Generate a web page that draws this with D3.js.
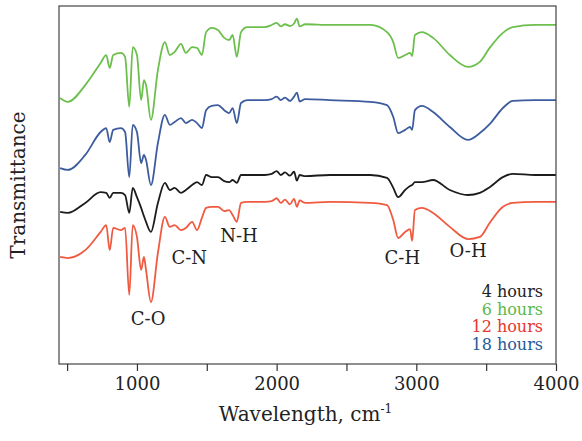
<!DOCTYPE html>
<html>
<head>
<meta charset="utf-8">
<script src="https://cdn.jsdelivr.net/npm/d3@7"></script>
<style>
    body { margin: 0; background: #fff; }
    text { font-family: "DejaVu Serif", "Liberation Serif", serif; }
    .line { fill: none; stroke-width: 1.8; stroke-linejoin: round; }
</style>
</head>
<body>
<div id="graph"></div>
<script>
// wavenumbers (cm-1) shared by all four spectra
var wavenumbers = [450, 505, 630, 740, 780, 805, 830, 885, 915, 945,
    970, 1000, 1030, 1050, 1065, 1100, 1150, 1200, 1235, 1270,
    1315, 1350, 1395, 1430, 1465, 1495, 1535, 1580, 1625, 1660,
    1685, 1715, 1745, 1790, 1915, 1965, 2000, 2030, 2060, 2095,
    2125, 2145, 2165, 2205, 2380, 2670, 2790, 2835, 2870, 2920,
    2955, 2970, 2990, 3040, 3120, 3240, 3370, 3455, 3525, 3620,
    3690, 3850, 4000];

// transmittance, offset spectra (a.u.)
var hours6 = [74.3, 73.2, 77.9, 84.1, 86.3, 82.7, 86.3, 86.9, 85.8, 71.8,
    88.5, 86.3, 73.7, 79.3, 77.9, 68.2, 82.1, 89.9, 86.3, 87.2,
    89.4, 86.9, 88.5, 88.3, 86.3, 92.7, 93.9, 93.3, 91.1, 90.5,
    91.9, 85.8, 92.7, 94.1, 94.1, 94.7, 95.3, 94.3, 94.9, 94.4,
    95.1, 96.5, 94.3, 94.9, 94.7, 94.7, 92.7, 89.9, 85.5, 86.3,
    86.9, 86.0, 91.9, 92.7, 91.1, 86.3, 83.0, 84.4, 88.3, 92.5,
    94.1, 94.7, 94.7];

var hours18 = [54.7, 54.2, 58.4, 64.8, 65.9, 62.0, 65.4, 65.9, 64.8, 52.2,
    66.8, 64.8, 56.1, 58.4, 57.0, 50.0, 61.7, 69.6, 66.8, 67.6,
    68.7, 67.3, 68.2, 67.3, 65.9, 70.9, 72.1, 72.3, 70.9, 70.1,
    71.5, 67.3, 72.9, 73.7, 73.7, 74.0, 74.7, 73.7, 74.4, 73.5,
    74.7, 75.8, 73.3, 74.0, 73.7, 73.2, 72.3, 69.0, 64.5, 65.4,
    66.2, 65.4, 70.9, 72.1, 70.4, 66.2, 62.6, 64.5, 67.0, 71.5,
    73.5, 73.7, 73.7];

var hours4 = [42.5, 42.2, 45.0, 48.0, 47.8, 46.4, 47.8, 47.8, 47.2, 42.2,
    49.2, 46.6, 43.6, 41.3, 39.7, 36.9, 45.0, 50.6, 48.6, 49.2,
    47.8, 48.6, 50.0, 50.8, 50.0, 52.8, 52.2, 52.2, 51.1, 50.8,
    51.4, 50.6, 52.8, 52.8, 52.8, 53.1, 53.9, 52.8, 53.5, 52.6,
    53.7, 51.2, 52.8, 52.5, 52.8, 52.8, 52.0, 49.2, 46.6, 48.6,
    49.7, 50.0, 50.8, 50.8, 51.4, 48.6, 47.2, 47.8, 49.4, 52.2,
    53.1, 52.8, 52.8];

var hours12 = [29.9, 29.6, 31.8, 36.9, 38.8, 31.8, 38.0, 37.4, 38.0, 19.3,
    38.8, 35.5, 26.3, 29.9, 26.3, 17.3, 31.0, 41.1, 38.3, 38.8,
    37.4, 38.0, 39.7, 37.4, 40.8, 43.6, 43.9, 43.9, 42.7, 43.0,
    41.6, 39.7, 45.0, 45.3, 45.3, 45.5, 46.3, 45.0, 45.9, 44.6,
    46.1, 43.9, 45.7, 45.0, 45.3, 45.0, 44.4, 40.2, 35.2, 36.9,
    37.7, 34.4, 43.0, 43.6, 42.2, 38.3, 34.9, 35.5, 39.4, 43.9,
    45.0, 45.3, 45.3];

var seriesNames = ["4 hours", "6 hours", "12 hours", "18 hours"];
var xTicks = [500, 1000, 1500, 2000, 2500, 3000, 3500, 4000];

var bands = [
    { label: "C-O", wn: 1080, t: 11 },
    { label: "C-N", wn: 1375, t: 28 },
    { label: "N-H", wn: 1730, t: 34 },
    { label: "C-H", wn: 2900, t: 28 },
    { label: "O-H", wn: 3370, t: 30 }
];

(function() {

    var width = 582,
        height = 441,
        left = 59,
        right = 556,
        top = 6,
        bottom = 364;

    var svg = d3.select('#graph')
        .append('svg')
        .attr('width', width)
        .attr('height', height);

    var x = d3.scaleLinear()
        .domain([442, 4000])
        .range([left, right]);

    var y = d3.scaleLinear()
        .domain([0, 100])
        .range([bottom, top]);

    var series = [
        { name: seriesNames[1], values: hours6, line: '#6cbf4d', text: '#5cb847' },
        { name: seriesNames[3], values: hours18, line: '#3d5c9e', text: '#1f5b98' },
        { name: seriesNames[0], values: hours4, line: '#1c1c1c', text: '#222222' },
        { name: seriesNames[2], values: hours12, line: '#f05a40', text: '#e8352d' }
    ];

    var line = d3.line()
        .curve(d3.curveMonotoneX)
        .x(function(d, i) { return x(wavenumbers[i]); })
        .y(function(d) { return y(d); });

    svg.append('g')
        .selectAll('path')
        .data(series)
        .enter()
        .append('path')
        .attr('class', 'line')
        .attr('stroke', function(d) { return d.line; })
        .attr('d', function(d) { return line(d.values); });

    // frame
    svg.append('rect')
        .attr('x', left)
        .attr('y', top)
        .attr('width', right - left)
        .attr('height', bottom - top)
        .attr('fill', 'none')
        .attr('stroke', '#444')
        .attr('stroke-width', 1.2);

    var xAxis = svg.append('g')
        .attr('transform', 'translate(0,' + bottom + ')')
        .call(d3.axisBottom(x)
            .tickValues(xTicks)
            .tickSize(7)
            .tickPadding(6)
            .tickFormat(function(d) { return d % 1000 === 0 ? d : ''; }));

    xAxis.select('.domain').remove();
    xAxis.selectAll('line').attr('stroke', '#333').attr('stroke-width', 1.2);
    xAxis.selectAll('text')
        .attr('fill', '#222')
        .style('font-family', '"DejaVu Serif", serif')
        .style('font-size', '18px');

    var title = svg.append('text')
        .attr('x', (left + right) / 2 - 2)
        .attr('y', 421)
        .attr('text-anchor', 'middle')
        .attr('fill', '#222')
        .style('font-size', '20px')
        .text('Wavelength, cm');
    title.append('tspan')
        .attr('dy', -8)
        .style('font-size', '12px')
        .text('-1');

    svg.append('text')
        .attr('transform', 'translate(25,' + ((top + bottom) / 2) + ') rotate(-90)')
        .attr('text-anchor', 'middle')
        .attr('fill', '#222')
        .style('font-size', '20px')
        .text('Transmittance');

    svg.append('g')
        .selectAll('text')
        .data(bands)
        .enter()
        .append('text')
        .attr('x', function(d) { return x(d.wn); })
        .attr('y', function(d) { return y(d.t); })
        .attr('text-anchor', 'middle')
        .attr('fill', '#222')
        .style('font-size', '18px')
        .text(function(d) { return d.label; });

    // legend, in time order
    var legendOrder = [series[2], series[0], series[3], series[1]];
    svg.append('g')
        .selectAll('text')
        .data(legendOrder)
        .enter()
        .append('text')
        .attr('x', 543)
        .attr('y', function(d, i) { return 297 + i * 17.5; })
        .attr('text-anchor', 'end')
        .attr('fill', function(d) { return d.text; })
        .style('font-size', '16px')
        .text(function(d) { return d.name; });

})();
</script>
</body>
</html>
